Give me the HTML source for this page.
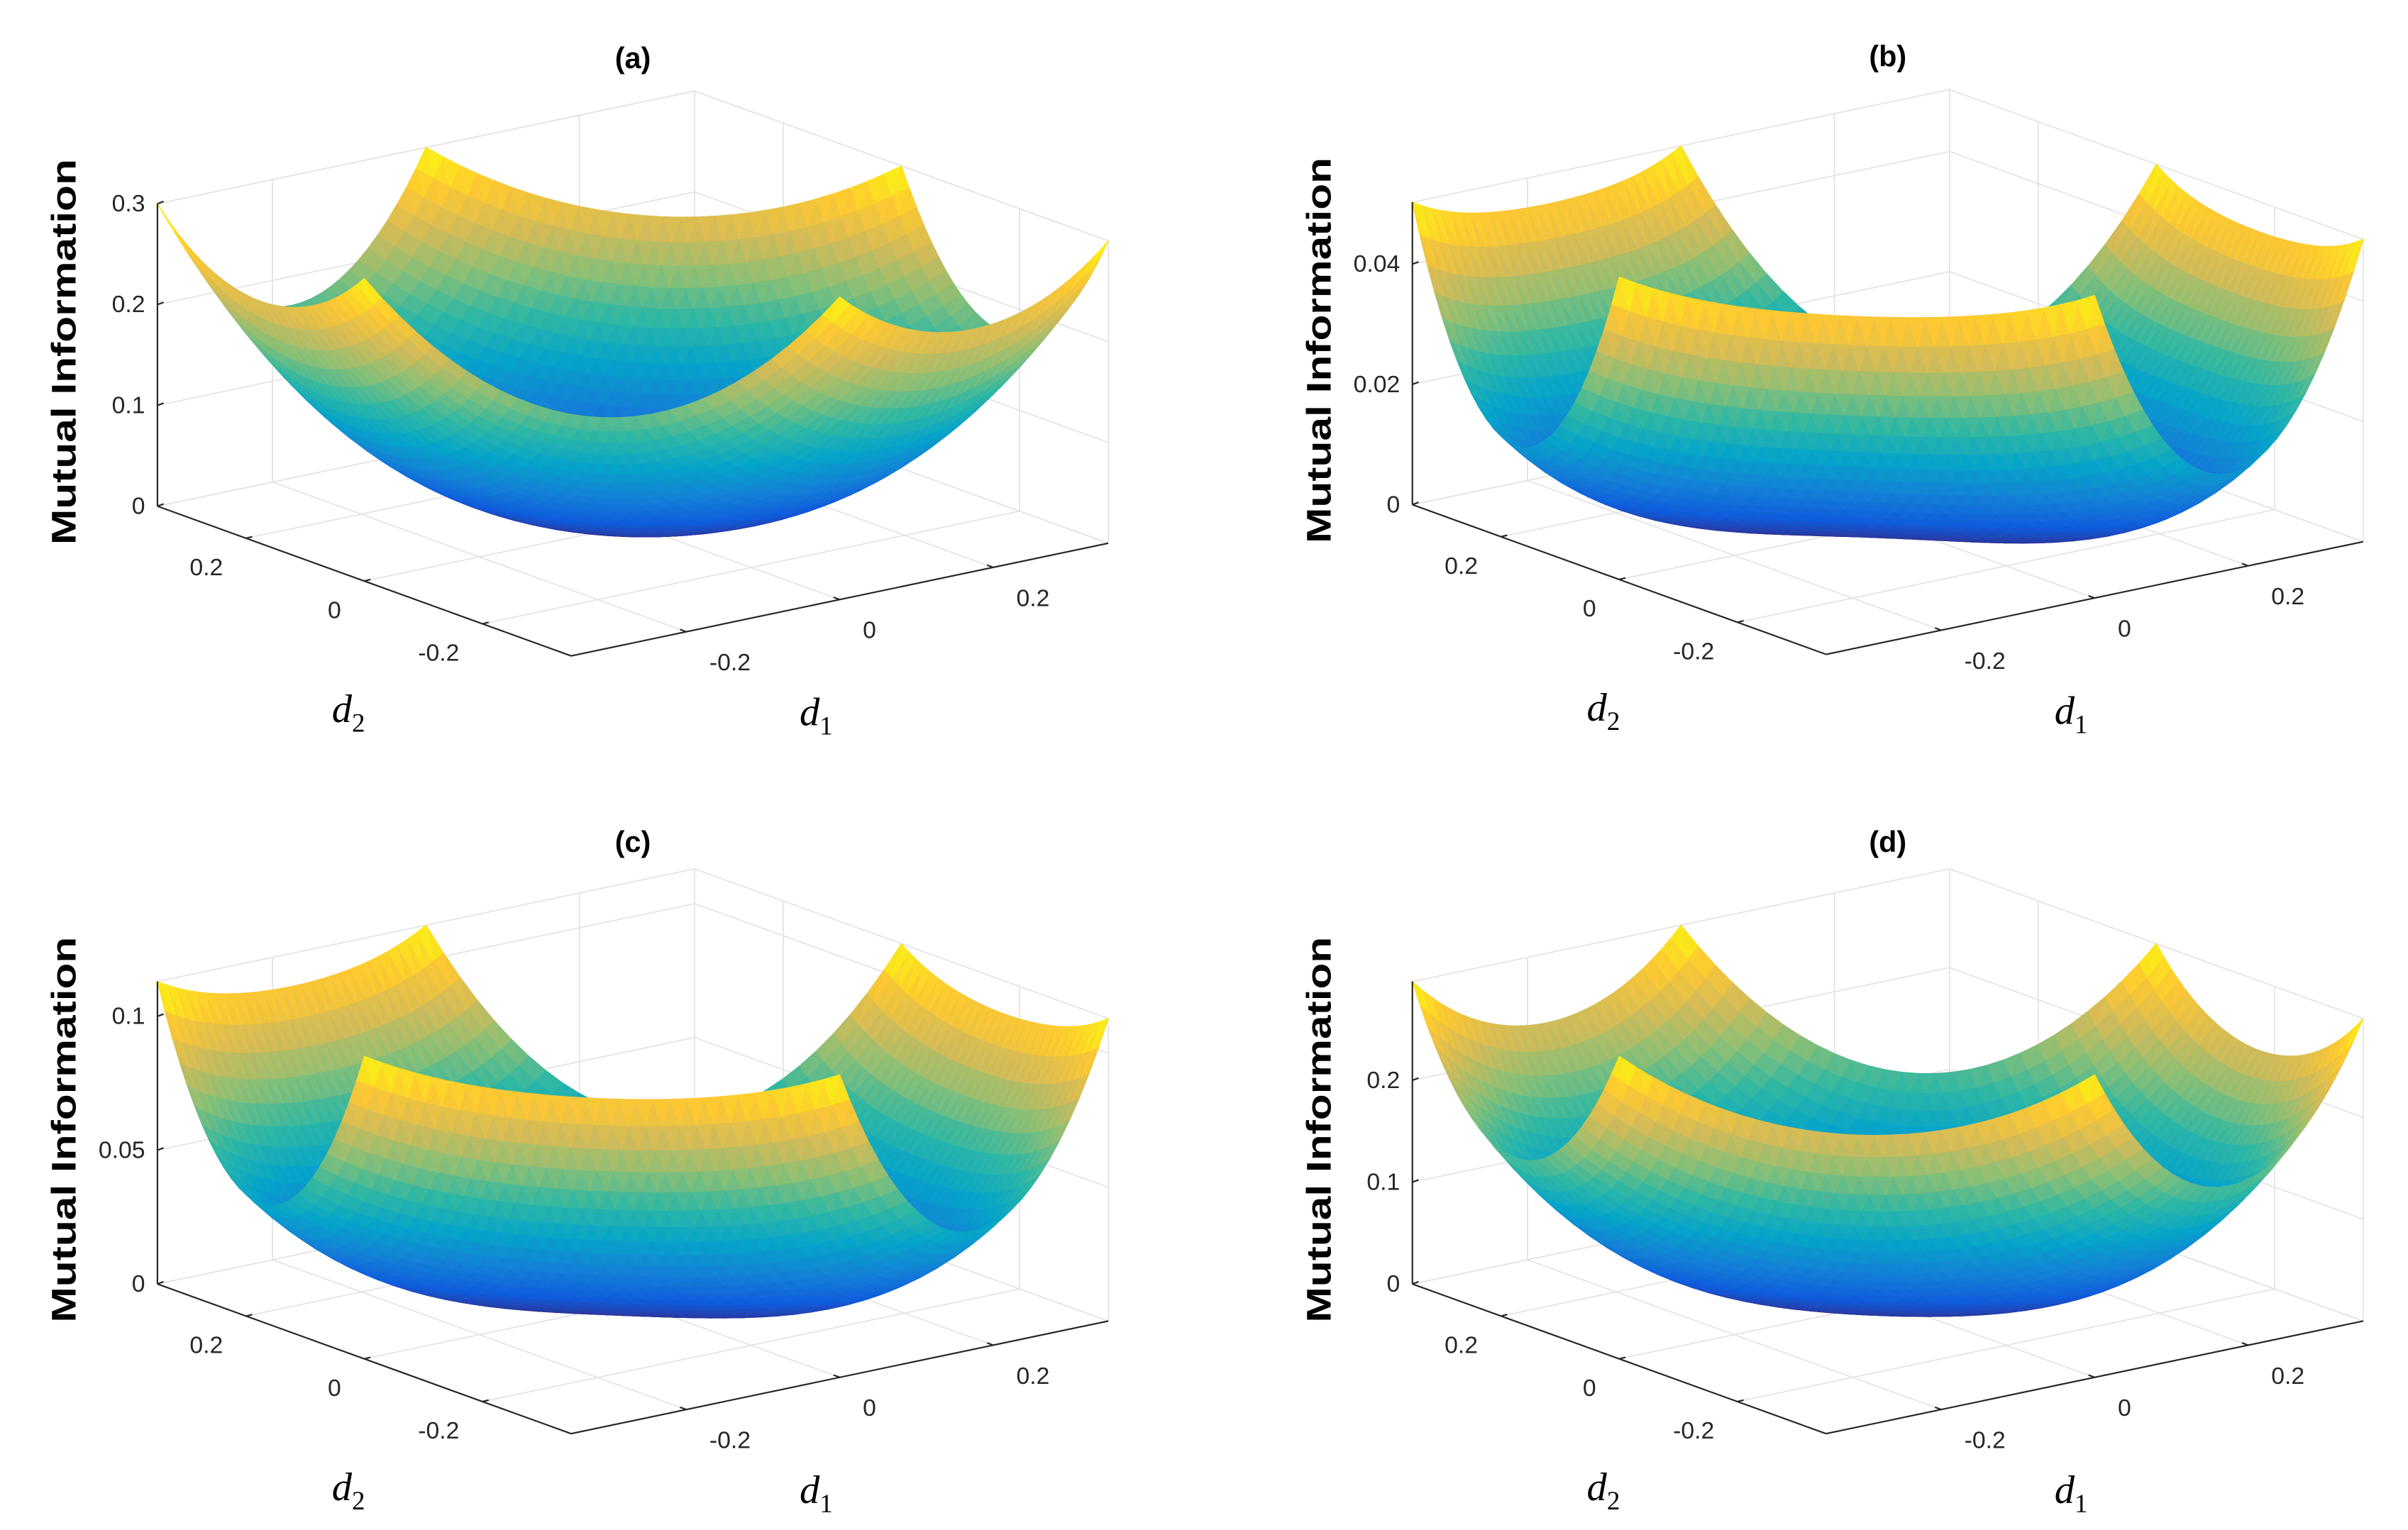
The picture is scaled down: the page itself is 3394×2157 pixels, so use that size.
<!DOCTYPE html>
<html><head><meta charset="utf-8">
<style>
html,body{margin:0;padding:0;background:#fff;}
svg{display:block;}
</style></head>
<body>
<svg id="chart" width="3394" height="2157" viewBox="0 0 1560 991.4" xmlns="http://www.w3.org/2000/svg" style="font-family:'Liberation Sans',sans-serif"></svg>
<script>
// ---- data ----
const panelTitles = ["(a)", "(b)", "(c)", "(d)"];
const panelOriginX = [102, 915, 102, 915];
const panelOriginY = [328, 327, 832, 832];
const zTopValues = [0.30, 0.0503, 0.113, 0.297];
const surfaceMax = [0.30, 0.0503, 0.113, 0.297];
const surfaceExponent = [1.31, 1.72, 1.55, 1.47];
const edgeWeight = [-0.115, 0.29, 0.25, 0.115];
const zTickValues = [[0, 0.1, 0.2, 0.3], [0, 0.02, 0.04], [0, 0.05, 0.1], [0, 0.1, 0.2]];
const zTickLabels = [["0", "0.1", "0.2", "0.3"], ["0", "0.02", "0.04"], ["0", "0.05", "0.1"], ["0", "0.1", "0.2"]];
const dTickValues = [-0.2, 0, 0.2];
const dTickLabels = ["-0.2", "0", "0.2"];
const dRange = 0.35;

const NS = "http://www.w3.org/2000/svg";
const svg = document.getElementById("chart");
function mk(tag, attrs, parent) {
  const e = document.createElementNS(NS, tag);
  for (const k in attrs) e.setAttribute(k, attrs[k]);
  (parent || svg).appendChild(e);
  return e;
}
const parulaStops = [[0.208,0.166,0.529],[0.059,0.361,0.867],[0.078,0.506,0.839],[0.024,0.643,0.792],[0.180,0.718,0.643],[0.529,0.749,0.467],[0.820,0.733,0.349],[0.996,0.784,0.196],[0.976,0.984,0.055]];
function parula(t) {
  t = Math.max(0, Math.min(1, t));
  const f = t * (parulaStops.length - 1), i = Math.min(parulaStops.length - 2, Math.floor(f)), r = f - i;
  const a = parulaStops[i], b = parulaStops[i + 1];
  return "rgb(" + [0,1,2].map(k => Math.round(255 * (a[k] + (b[k] - a[k]) * r))).join(",") + ")";
}

for (let p = 0; p < 4; p++) {
  const g = mk("g", {});
  
  
  const Lx = panelOriginX[p], Ly = panelOriginY[p], zTop = zTopValues[p];
  const fx = (d1, d2) => { const u = (dRange - d2) / (2 * dRange), v = (d1 + dRange) / (2 * dRange); return Lx + u * 268 + v * 348; };
  const fy = (d1, d2) => { const u = (dRange - d2) / (2 * dRange), v = (d1 + dRange) / (2 * dRange); return Ly + u * 97 - v * 73; };
  const zp = z => z / zTop * 196;
  const grid = mk("g", {stroke: "#e3e3e3", "stroke-width": 0.8, fill: "none"}, g);
  
  
  const line = (x1, y1, x2, y2, par) => mk("line", {x1, y1, x2, y2}, par);
  dTickValues.forEach(t => {
    line(fx(t, dRange), fy(t, dRange), fx(t, -dRange), fy(t, -dRange), grid);
    line(fx(-dRange, t), fy(-dRange, t), fx(dRange, t), fy(dRange, t), grid);
    line(fx(t, dRange), fy(t, dRange), fx(t, dRange), fy(t, dRange) - zp(zTop), grid);
    line(fx(dRange, t), fy(dRange, t), fx(dRange, t), fy(dRange, t) - zp(zTop), grid);
  });
  const Bx = fx(dRange, dRange), By = fy(dRange, dRange), Rx = fx(dRange, -dRange), Ry = fy(dRange, -dRange);
  line(Bx, By, Bx, By - zp(zTop), grid);
  line(Rx, Ry, Rx, Ry - zp(zTop), grid);
  line(Lx, Ly, Bx, By, grid); line(Bx, By, Rx, Ry, grid);
  zTickValues[p].concat([zTop]).forEach(z => {
    line(Lx, Ly - zp(z), Bx, By - zp(z), grid);
    line(Bx, By - zp(z), Rx, Ry - zp(z), grid);
  });
  // surface
  const surf = mk("g", {}, g);
  
  
  const N = 56, st = 2 * dRange / N, zmax = surfaceMax[p], ex = surfaceExponent[p], kw = edgeWeight[p];
  const qmax = dRange * dRange, h0 = 0.0107;
  const zf = (a, b) => {
    const base = Math.pow((a * a + a * b + b * b) / qmax, ex);
    const h = -a * b * (a + b) / h0;
    return zmax * Math.max(0, base + kw * h);
  };
  const tris = [];
  for (let i = 0; i < N; i++) for (let j = 0; j < N; j++) {
    const a0 = -dRange + i * st, a1 = a0 + st, b0 = -dRange + j * st, b1 = b0 + st;
    const t1 = [[a0, b0], [a1, b0], [a0, b1]], t2 = [[a1, b0], [a1, b1], [a0, b1]];
    [t1, t2].forEach(t => {
      if (t.every(q => Math.abs(q[0] + q[1]) <= dRange + 1e-9)) {
        const pts = t.map(q => { const z = zf(q[0], q[1]); return [fx(q[0], q[1]), fy(q[0], q[1]) - zp(z), z, fy(q[0], q[1])]; });
        const zc = (pts[0][2] + pts[1][2] + pts[2][2]) / 3;
        const fyc = (pts[0][3] + pts[1][3] + pts[2][3]) / 3;
        const close = 1.732 * fyc + 0.577 * zp(zc);
        tris.push([close, pts, zc]);
      }
    });
  }
  tris.sort((a, b) => a[0] - b[0]);
  tris.forEach(t => {
    const c = parula(t[2] / zmax);
    mk("polygon", {points: t[1].map(q => q[0].toFixed(2) + "," + q[1].toFixed(2)).join(" "), fill: c, stroke: c, "stroke-width": 0.6, "stroke-linejoin": "round"}, surf);
  });
  // axes
  const ax = mk("g", {stroke: "#262626", "stroke-width": 1, fill: "none"}, g);
  
  
  const Fx = fx(-dRange, -dRange), Fy = fy(-dRange, -dRange);
  line(Lx, Ly, Lx, Ly - zp(zTop), ax);
  line(Lx, Ly, Fx, Fy, ax);
  line(Fx, Fy, Rx, Ry, ax);
  const lab = mk("g", {fill: "#262626", "font-size": 15.5}, g);
  zTickValues[p].forEach((z, k) => {
    line(Lx, Ly - zp(z), Lx + 4, Ly - zp(z) - 1.5, ax);
    const t = mk("text", {x: Lx - 8, y: Ly - zp(z) + 5, "text-anchor": "end"}, lab);
    t.textContent = zTickLabels[p][k];
    
    
  });
  dTickValues.forEach((d, k) => {
    const x2 = fx(-dRange, d), y2 = fy(-dRange, d);
    line(x2, y2, x2 + 4, y2 - 1, ax);
    const t2 = mk("text", {x: x2 - 15, y: y2 + 24, "text-anchor": "end"}, lab);
    t2.textContent = dTickLabels[k];
    
    
    const x1 = fx(d, -dRange), y1 = fy(d, -dRange);
    line(x1, y1, x1 - 4, y1 - 1.5, ax);
    const t1 = mk("text", {x: x1 + 15, y: y1 + 25, "text-anchor": "start"}, lab);
    t1.textContent = dTickLabels[k];
    
    
  });
  const title = mk("text", {x: Lx + 308, y: Ly - (p < 2 ? 284 : 280), "text-anchor": "middle", "font-weight": "bold", "font-size": 19, fill: "#000"}, g);
  title.textContent = panelTitles[p];
  
  
  const yl = mk("text", {x: 0, y: 0, transform: "translate(" + (Lx - 53) + "," + (Ly - 100) + ") rotate(-90)", "text-anchor": "middle", "font-weight": "bold", "font-size": 22, textLength: 250, lengthAdjust: "spacingAndGlyphs", fill: "#000"}, g);
  yl.textContent = "Mutual Information";
  
  
  const d2l = mk("text", {x: Lx + 113, y: Ly + 140, style: "font-family:'Liberation Serif',serif;font-style:italic", "font-size": 26, fill: "#000"}, g);
  d2l.innerHTML = 'd<tspan font-size="17" dy="6" style="font-style:normal">2</tspan>';
  
  
  const d1l = mk("text", {x: Lx + 416, y: Ly + 142, style: "font-family:'Liberation Serif',serif;font-style:italic", "font-size": 26, fill: "#000"}, g);
  d1l.innerHTML = 'd<tspan font-size="17" dy="6" style="font-style:normal">1</tspan>';
  
  
}
</script>
</body></html>
